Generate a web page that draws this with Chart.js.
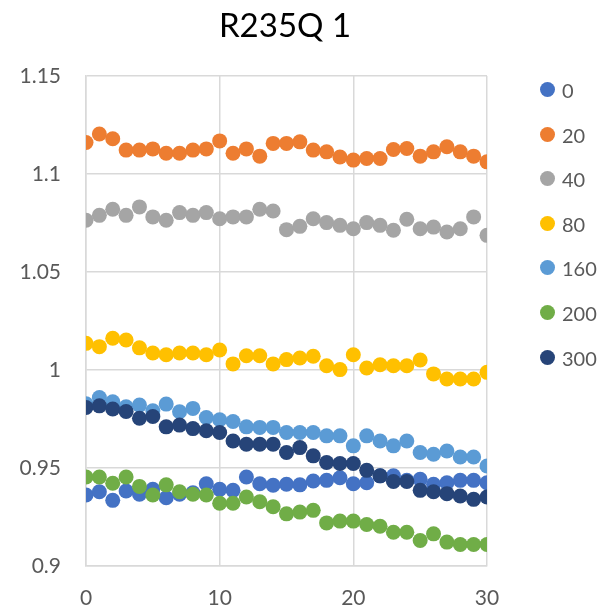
<!DOCTYPE html>
<html>
<head>
<meta charset="utf-8">
<script src="https://cdn.jsdelivr.net/npm/chart.js@4/dist/chart.umd.min.js"></script>
<style>
  html, body { margin: 0; padding: 0; background: #fff; }
  #wrap { position: relative; width: 603px; height: 608px; font-family: Lato, "Open Sans", sans-serif; }
  #title { position: absolute; left: 0; width: 570px; top: 5px; text-align: center; font-size: 33px; line-height: 1.2; color: #000; white-space: nowrap; }
  #legend { position: absolute; left: 540px; top: 0; }
  .li { position: absolute; left: 0; height: 22px; width: 60px; }
  .dot { position: absolute; left: 0; top: 4px; width: 15px; height: 15px; border-radius: 50%; }
  .lt { position: absolute; left: 22px; top: 0; font-size: 20px; line-height: 1.2; color: #595959; }
  canvas { position: absolute; left: 0; top: 0; }
</style>
</head>
<body>
<div id="wrap">
  <canvas id="c" width="603" height="608"></canvas>
  <div id="title"></div>
  <div id="legend"></div>
</div>
<script>
const chartTitle = "R235Q 1";
const seriesNames = ["0", "20", "40", "80", "160", "200", "300"];
const seriesColors = ["#4472C4", "#ED7D31", "#A5A5A5", "#FFC000", "#5B9BD5", "#70AD47", "#264478"];
const xValues = [0,1,2,3,4,5,6,7,8,9,10,11,12,13,14,15,16,17,18,19,20,21,22,23,24,25,26,27,28,29,30];
const xTicks = [0, 10, 20, 30];
const yTicks = [0.9, 0.95, 1, 1.05, 1.1, 1.15];
const yTickLabels = ["0.9", "0.95", "1", "1.05", "1.1", "1.15"];

const s0 = [0.9362,0.9379,0.9335,0.9383,0.9366,0.9391,0.9348,0.9366,0.9374,0.9420,0.9391,0.9386,0.9454,0.9420,0.9412,0.9417,0.9414,0.9434,0.9437,0.9450,0.9420,0.9425,0.9460,0.9460,0.9437,0.9442,0.9417,0.9425,0.9437,0.9437,0.9425];
const s20 = [1.1161,1.1204,1.1180,1.1122,1.1122,1.1128,1.1106,1.1106,1.1122,1.1128,1.1169,1.1106,1.1128,1.1091,1.1156,1.1156,1.1164,1.1122,1.1113,1.1087,1.1071,1.1079,1.1079,1.1125,1.1130,1.1091,1.1113,1.1139,1.1113,1.1091,1.1062];
const s40 = [1.0764,1.0789,1.0820,1.0789,1.0832,1.0781,1.0764,1.0803,1.0789,1.0803,1.0772,1.0781,1.0781,1.0820,1.0811,1.0716,1.0733,1.0772,1.0752,1.0738,1.0721,1.0752,1.0738,1.0713,1.0769,1.0721,1.0729,1.0704,1.0721,1.0781,1.0687];
const s80 = [1.0136,1.0119,1.0162,1.0153,1.0113,1.0087,1.0078,1.0087,1.0087,1.0078,1.0102,1.0031,1.0073,1.0073,1.0031,1.0053,1.0061,1.0070,1.0022,1.0002,1.0078,1.0010,1.0027,1.0022,1.0022,1.0051,0.9980,0.9954,0.9954,0.9954,0.9988];
const s160 = [0.9828,0.9860,0.9838,0.9812,0.9821,0.9792,0.9826,0.9787,0.9804,0.9758,0.9746,0.9737,0.9710,0.9707,0.9707,0.9681,0.9681,0.9681,0.9664,0.9664,0.9613,0.9664,0.9638,0.9613,0.9638,0.9579,0.9570,0.9587,0.9556,0.9556,0.9510];
const s200 = [0.9454,0.9454,0.9422,0.9454,0.9406,0.9362,0.9414,0.9379,0.9366,0.9362,0.9320,0.9320,0.9352,0.9328,0.9302,0.9266,0.9275,0.9284,0.9220,0.9229,0.9229,0.9212,0.9203,0.9172,0.9172,0.9130,0.9164,0.9122,0.9110,0.9110,0.9110];
const s300 = [0.9809,0.9817,0.9801,0.9788,0.9754,0.9763,0.9710,0.9719,0.9701,0.9690,0.9681,0.9638,0.9621,0.9621,0.9621,0.9579,0.9604,0.9562,0.9528,0.9523,0.9523,0.9488,0.9460,0.9431,0.9431,0.9386,0.9379,0.9369,0.9357,0.9340,0.9352];
const seriesValues = [s0, s20, s40, s80, s160, s200, s300];

document.getElementById('title').textContent = chartTitle;

const legendEl = document.getElementById('legend');
seriesNames.forEach((n, i) => {
  const li = document.createElement('div');
  li.className = 'li';
  li.style.top = (78 + i * 44.6) + 'px';
  const d = document.createElement('div');
  d.className = 'dot';
  d.style.background = seriesColors[i];
  const t = document.createElement('div');
  t.className = 'lt';
  t.textContent = n;
  li.appendChild(d); li.appendChild(t);
  legendEl.appendChild(li);
});

const datasets = seriesNames.map((n, i) => ({
  label: n,
  data: xValues.map((x, j) => ({ x: x, y: seriesValues[i][j] })),
  backgroundColor: seriesColors[i],
  borderColor: seriesColors[i],
  pointRadius: 7.5,
  pointHoverRadius: 7.5,
  pointBorderWidth: 0,
  showLine: false,
  order: seriesNames.length - 1 - i
}));

const fontFam = 'Lato, "Open Sans", sans-serif';

new Chart(document.getElementById('c'), {
  type: 'scatter',
  data: { datasets: datasets },
  options: {
    responsive: false,
    animation: false,
    events: [],
    layout: { padding: { left: 0, top: 76, right: 116, bottom: 0 } },
    plugins: { legend: { display: false }, title: { display: false }, tooltip: { enabled: false } },
    scales: {
      x: {
        type: 'linear',
        min: 0, max: 30,
        afterBuildTicks: (s) => { s.ticks = xTicks.map(v => ({ value: v })); },
        afterFit: (s) => { s.height = 42; },
        grid: { color: '#d9d9d9', lineWidth: 1.5, drawTicks: false },
        border: { color: '#d9d9d9', width: 1.5 },
        ticks: { padding: 20, color: '#595959', font: { family: fontFam, size: 21 }, maxRotation: 0 }
      },
      y: {
        type: 'linear',
        min: 0.9, max: 1.15,
        afterBuildTicks: (s) => { s.ticks = yTicks.map(v => ({ value: v })); },
        afterFit: (s) => { s.width = 86; },
        grid: { color: '#d9d9d9', lineWidth: 1.5, drawTicks: false },
        border: { color: '#d9d9d9', width: 1.5 },
        ticks: {
          padding: 25, color: '#595959', font: { family: fontFam, size: 21 },
          callback: (v) => { const k = yTicks.findIndex(t => Math.abs(t - v) < 1e-9); return k >= 0 ? yTickLabels[k] : ''; }
        }
      }
    }
  }
});
</script>
</body>
</html>
